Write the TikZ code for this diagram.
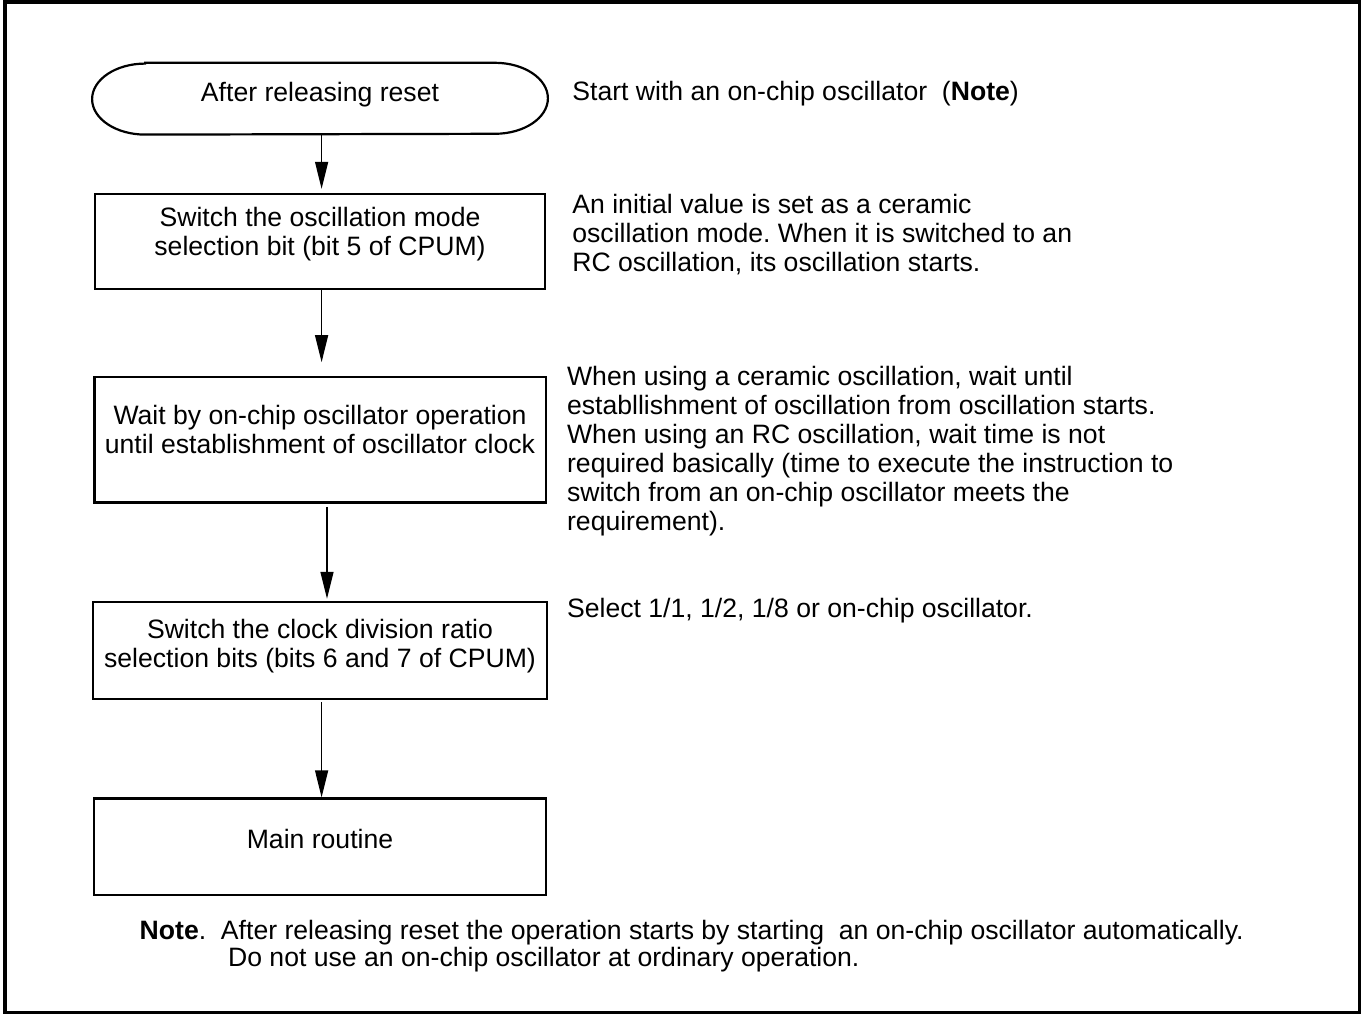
\documentclass[tikz,border=0pt]{standalone}
\usepackage{fontspec}
\setmainfont{Liberation Sans}
\usetikzlibrary{arrows.meta}
\frenchspacing

\begin{document}
\begin{tikzpicture}[x=0.5pt,y=-0.5pt,font=\fontsize{13.3}{14.5}\selectfont,
  flowbox/.style={draw,line width=1.1pt,inner sep=0pt,align=center},
  flowarrow/.style={line width=0.65pt,-{Triangle[length=13.5pt,width=6.5pt]}},
  sidenote/.style={anchor=base west,inner sep=0pt,align=left}]
  \useasboundingbox (0,0) rectangle (1363,1015);
  \draw[line width=1.75pt] (5,2) rectangle (1359.5,1012.5);
  \node[inner sep=0pt,align=center,minimum width=227.5pt,text height=19pt,text depth=16.5pt]
    (start) at (320,98.7) {After releasing reset};
  \draw[line width=1.1pt] ([xshift=26.5pt]start.north west) -- ([xshift=-26.5pt]start.north east)
    arc[start angle=90,end angle=-90,x radius=26.5pt,y radius=17.75pt]
    -- ([xshift=26.5pt]start.south west)
    arc[start angle=270,end angle=90,x radius=26.5pt,y radius=17.75pt] -- cycle;
  \node[flowbox,minimum width=225.35pt,text height=30.85pt,text depth=16.5pt]
    (osc) at (320,241.35) {Switch the oscillation mode\\selection bit (bit 5 of CPUM)};
  \node[flowbox,minimum width=225.6pt,text height=37.85pt,text depth=24.75pt]
    (wait) at (320,439.9) {Wait by on-chip oscillator operation\\until establishment of oscillator clock};
  \node[flowbox,minimum width=226.95pt,text height=32.5pt,text depth=15.85pt]
    (ratio) at (320,650.65) {Switch the clock division ratio\\selection bits (bits 6 and 7 of CPUM)};
  \node[flowbox,minimum width=225.9pt,text height=24.9pt,text depth=23.35pt]
    (main) at (320,846.75) {Main routine};
  \draw[flowarrow] ([xshift=0.8pt]start.south) -- ([xshift=0.8pt,yshift=2pt]osc.north);
  \draw[flowarrow] ([xshift=0.8pt]osc.south) -- ([xshift=0.8pt,yshift=7pt]wait.north);
  \draw[flowarrow] ([xshift=3.5pt,yshift=-1.6pt]wait.south) -- ([xshift=3.5pt,yshift=1.2pt]ratio.north);
  \draw[flowarrow] ([xshift=0.8pt,yshift=-1pt]ratio.south) -- ([xshift=0.8pt]main.north);
  \node[sidenote] (startnote) at (572,101) {Start with an on-chip oscillator\ \ (\textbf{Note})};
  \node[sidenote] (oscnote) at (572,272) {An initial value is set as a ceramic\\oscillation mode. When it is switched to an\\RC oscillation, its oscillation starts.};
  \node[sidenote] (waitnote) at (566.7,530.5) {When using a ceramic oscillation, wait until\\establlishment of oscillation from oscillation starts.\\When using an RC oscillation, wait time is not\\required basically (time to execute the instruction to\\switch from an on-chip oscillator meets the\\requirement).};
  \node[sidenote] (rationote) at (566.7,617.7) {Select 1/1, 1/2, 1/8 or on-chip oscillator.};
  \node[sidenote] (footnote) at (139.3,966.7) {\textbf{Note}.\ \ After releasing reset the operation starts by starting\ \ an on-chip oscillator automatically.\\[-0.75pt]\hspace*{44.2pt}Do not use an on-chip oscillator at ordinary operation.};
\end{tikzpicture}
\end{document}
